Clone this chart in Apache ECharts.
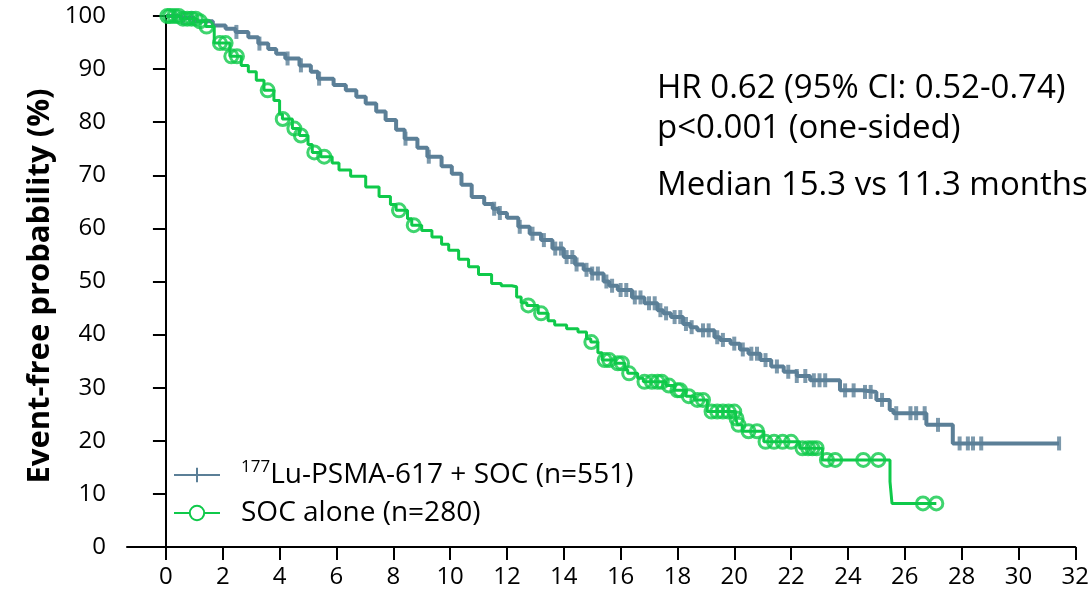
<!DOCTYPE html>
<html>
<head>
<meta charset="utf-8">
<script src="https://cdn.jsdelivr.net/npm/echarts@6/dist/echarts.min.js"></script>
<style>html,body{margin:0;padding:0;background:#fff}#c{width:1092px;height:594px}</style>
</head>
<body>
<div id="c"></div>
<script>
// ---- Data ----
var xTicks = [0,2,4,6,8,10,12,14,16,18,20,22,24,26,28,30,32];
var yTicks = [0,10,20,30,40,50,60,70,80,90,100];

var luName = '177Lu-PSMA-617 + SOC (n=551)';
var socName = 'SOC alone (n=280)';

// Kaplan-Meier steps [months, event-free %]
var luSteps = [
  [0,100],[0.5,99.6],[1.0,99.0],[1.65,98.2],[2.1,97.6],[2.45,97.0],[2.9,96.0],[3.25,94.8],
  [3.6,93.8],[3.88,92.9],[4.2,92.0],[4.7,90.7],[5.1,89.5],[5.35,88.2],[5.9,87.0],[6.33,86.0],
  [6.7,84.8],[7.03,83.5],[7.4,82.0],[7.73,80.4],[8.1,78.6],[8.4,76.9],[8.85,75.2],[9.2,73.5],
  [9.7,71.7],[10.06,70.3],[10.4,68.2],[10.76,65.9],[11.2,64.6],[11.5,63.7],[11.7,62.9],[12.0,62.0],
  [12.4,60.3],[12.8,59.0],[13.2,57.8],[13.6,56.2],[14.0,54.6],[14.4,53.2],[14.7,52.2],[14.97,51.5],
  [15.4,50.0],[15.6,49.2],[15.9,48.4],[16.4,47.0],[16.84,45.9],[17.3,44.6],[17.5,44.0],[17.77,43.3],
  [18.2,42.0],[18.45,41.4],[18.7,40.8],[19.3,39.5],[19.5,39.0],[19.87,38.3],[20.2,37.2],[20.5,36.4],
  [20.92,35.2],[21.3,34.0],[21.74,33.0],[22.2,32.2],[22.67,31.4],[23.72,29.5],[24.5,29.2],[25.0,27.7],
  [25.47,25.8],[25.6,25.2],[26.76,23.0],[27.69,19.5],[31.43,19.5]
];
var luCensor = [
  0.3,0.6,0.9,2.48,3.29,4.28,4.75,5.39,8.43,9.25,11.55,11.75,12.45,12.9,13.3,13.7,13.9,14.1,14.3,
  14.45,14.8,15.0,15.2,15.5,15.7,16.0,16.2,16.5,16.7,17.0,17.2,17.4,17.6,17.9,18.1,18.3,18.5,18.9,
  19.1,19.4,19.6,20.0,20.3,20.6,20.8,21.1,21.5,21.9,22.2,22.5,22.8,23.0,23.2,23.9,24.2,24.6,24.8,
  25.2,25.7,26.2,26.4,26.7,27.17,27.93,28.22,28.4,28.69,31.43
];

var socSteps = [
  [0,100],[0.5,99.5],[1.1,99.0],[1.4,98.0],[1.7,94.9],[2.25,92.4],[2.65,90.7],[2.9,89.5],
  [3.18,87.9],[3.45,86.0],[3.8,84.1],[4.0,81.5],[4.1,80.6],[4.45,78.8],[4.7,77.5],[5.0,75.8],
  [5.15,74.3],[5.45,73.5],[5.85,72.3],[6.09,71.0],[6.5,69.8],[7.03,67.8],[7.5,66.0],[7.9,64.5],
  [8.1,63.4],[8.5,61.8],[8.65,60.6],[9.0,59.6],[9.36,58.4],[9.7,57.0],[9.95,55.9],[10.3,54.2],
  [10.65,52.8],[11.0,51.3],[11.46,49.6],[11.8,49.2],[12.17,49.0],[12.34,47.1],[12.5,46.0],[12.7,45.5],
  [13.1,44.0],[13.45,42.6],[13.68,41.8],[14.1,41.1],[14.5,40.5],[14.8,39.2],[14.95,38.6],[15.2,36.6],
  [15.35,35.2],[15.8,34.6],[16.15,33.4],[16.25,32.7],[16.6,31.8],[16.8,31.1],[17.6,30.4],[17.89,29.5],
  [18.3,28.4],[18.6,27.7],[19.05,25.5],[20.05,24.2],[20.12,23.0],[20.28,21.8],[21.04,19.8],[22.3,18.6],
  [23.1,16.4],[25.48,12.3],[25.55,8.2],[27.11,8.2]
];
var socCensor = [
  0.05,0.15,0.3,0.45,0.6,0.75,0.9,1.05,1.2,1.43,1.9,2.1,2.3,2.5,3.58,4.11,4.52,4.75,5.22,5.57,
  8.2,8.72,12.75,13.2,14.97,15.44,15.6,15.9,16.05,16.3,16.84,17.1,17.3,17.45,17.7,18.0,18.1,18.4,
  18.7,18.9,19.2,19.4,19.6,19.8,20.0,20.08,20.15,20.5,20.8,21.1,21.4,21.7,22.0,22.4,22.6,22.75,22.9,
  23.26,23.55,24.54,25.07,26.64,27.11
];

var annotations = ['HR 0.62 (95% CI: 0.52-0.74)', 'p<0.001 (one-sided)', 'Median 15.3 vs 11.3 months'];
var yTitle = 'Event-free probability (%)';

// ---- helpers ----
function survAt(steps, t){
  var v = steps[0][1];
  for (var i=0;i<steps.length;i++){ if (steps[i][0] <= t) v = steps[i][1]; else break; }
  return v;
}
function censorPts(steps, times){ return times.map(function(t){ return [t, survAt(steps,t)]; }); }

var BLUE = '#5b7f97', GREEN = '#0fc94a';
var FONT = '"Open Sans", sans-serif';

var chart = echarts.init(document.getElementById('c'), null, {renderer:'canvas'});
chart.setOption({
  animation:false,
  backgroundColor:'#fff',
  grid:{left:127, right:12.5, top:16, bottom:47, containLabel:false},
  xAxis:{
    type:'value', min:-1.37, max:32,
    axisLine:{show:true, onZero:false, lineStyle:{color:'#000', width:2}},
    axisTick:{show:true, length:13, lineStyle:{color:'#000', width:2}, customValues:xTicks},
    axisLabel:{color:'#000', fontSize:24, fontFamily:FONT, margin:18, customValues:xTicks},
    splitLine:{show:false}
  },
  yAxis:{
    type:'value', min:0, max:100, interval:10,
    axisLine:{show:true, lineStyle:{color:'#000', width:2}},
    axisTick:{show:true, length:13, lineStyle:{color:'#000', width:2}},
    axisLabel:{color:'#000', fontSize:24, fontFamily:FONT, margin:21},
    splitLine:{show:false}
  },
  legend:{
    left:168, top:454, orient:'vertical', itemGap:6, itemWidth:46, itemHeight:18,
    data:[luName, socName],
    textStyle:{color:'#000', fontSize:28, fontFamily:FONT, lineHeight:32, padding:[0,0,0,16],
      rich:{sup:{fontSize:17, fontFamily:FONT, color:'#000', verticalAlign:'top', padding:[0,0,13,0]},
            t:{fontSize:28, fontFamily:FONT, color:'#000', lineHeight:32}}},
    formatter:function(n){ return n===luName ? '{sup|177}{t|Lu-PSMA-617 + SOC (n=551)}' : n; }
  },
  graphic:[
    {type:'text', left:657, top:72, style:{text:annotations[0], font:'33px "Open Sans"', fill:'#000'}},
    {type:'text', left:657, top:112, style:{text:annotations[1], font:'33px "Open Sans"', fill:'#000'}},
    {type:'text', left:657, top:169, style:{text:annotations[2], font:'33px "Open Sans"', fill:'#000'}},
    {type:'text', x:40, y:286, rotation:Math.PI/2,
      style:{text:yTitle, font:'bold 31px "Open Sans"', fill:'#000', align:'center', verticalAlign:'middle'}}
  ],
  series:[
    {name:luName, type:'line', step:'end', data:luSteps, showSymbol:false,
      symbol:'path://M5,0L5,10M0,5L10,5', symbolSize:16,
      lineStyle:{color:BLUE, width:4}, itemStyle:{color:BLUE, borderColor:BLUE, borderWidth:4}, z:2},
    {name:socName, type:'line', step:'end', data:socSteps, showSymbol:false,
      symbol:'emptyCircle', symbolSize:14,
      lineStyle:{color:GREEN, width:3}, itemStyle:{color:GREEN, borderColor:GREEN, borderWidth:3}, z:3},
    {name:'luCensor', type:'scatter', data:censorPts(luSteps, luCensor), symbol:'rect', symbolSize:[4,14],
      itemStyle:{color:BLUE}, z:2},
    {name:'socCensor', type:'scatter', data:censorPts(socSteps, socCensor), symbol:'circle', symbolSize:13,
      itemStyle:{color:'rgba(255,255,255,0)', borderColor:GREEN, borderWidth:3}, z:4}
  ]
});
</script>
</body>
</html>
